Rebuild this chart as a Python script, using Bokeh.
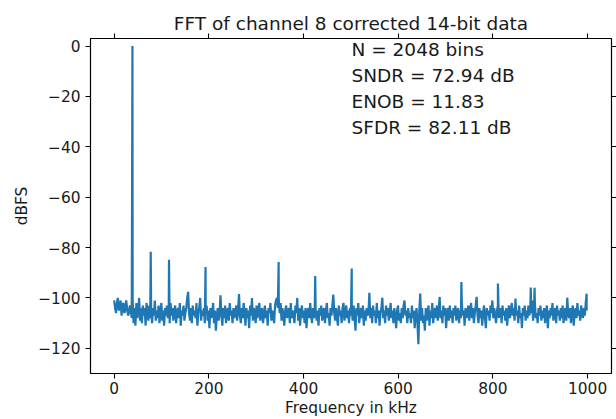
import numpy as np
from bokeh.plotting import figure
from bokeh.models import Range1d, LinearAxis, FixedTicker, Label, ColumnDataSource
from bokeh.embed import file_html
from bokeh.resources import INLINE

# ---------------- data ----------------
bin_width_khz = 1000.0 / 512          # bins of the noise floor
noise_floor_db = [
    -101, -104, -106, -102, -100, -105, -104, -101, -107, -103, -102, -106, -105, -101, -104, -107,
    -106, -103, -105, -108, -101, -110, -104, -111, -102, -108, -105, -100, -109, -104, -110, -103,
    -107, -104, -111, -102, -106, -109, -103, -108, -105, -110, -104, -107, -101, -109, -105, -108,
    -103, -110, -106, -102, -109, -105, -111, -104, -107, -103, -108, -106, -110, -102, -107, -104,
    -109, -105, -103, -110, -106, -104, -108, -102, -111, -105, -107, -103, -109, -106, -104, -100,
    -97.6, -106, -109, -104, -110, -103, -107, -105, -108, -102, -111, -106, -104, -100, -109, -105,
    -107, -104, -110, -106, -103, -109, -105, -112, -104, -108, -106, -102, -110, -105, -113, -107,
    -104, -109, -106, -99, -107, -111, -104, -108, -103, -110, -106, -104, -109, -102, -107, -105,
    -110, -104, -108, -106, -103, -109, -105, -98.5, -107, -110, -104, -108, -102, -106, -111, -104,
    -108, -105, -112, -103, -107, -100, -109, -104, -106, -110, -103, -108, -105, -102, -109, -106,
    -104, -110, -107, -103, -108, -105, -111, -104, -106, -102, -109, -105, -107, -110, -103, -101,
    -100, -104, -101, -106, -102, -109, -104, -107, -111, -105, -103, -108, -106, -104, -110, -102,
    -108, -105, -107, -110, -103, -106, -100, -109, -104, -111, -106, -103, -108, -105, -110, -104,
    -112, -106, -104, -108, -102, -107, -110, -104, -108, -103, -106, -109, -105, -111, -104, -107,
    -103, -109, -106, -104, -110, -105, -102, -108, -106, -111, -104, -107, -103, -98.7, -106, -109,
    -104, -108, -111, -103, -107, -105, -110, -104, -102, -109, -106, -103, -108, -105, -110, -104,
    -107, -105, -109, -103, -108, -113, -104, -107, -102, -110, -106, -104, -108, -103, -111, -105,
    -109, -104, -107, -106, -98, -108, -104, -110, -103, -107, -105, -110, -102, -108, -105, -111,
    -106, -104, -99.9, -108, -105, -110, -103, -107, -104, -109, -106, -102, -108, -105, -110, -104,
    -107, -112, -105, -103, -109, -106, -110, -104, -108, -103, -101, -107, -105, -110, -104, -108,
    -106, -110, -103, -108, -105, -112, -107, -104, -110, -118.4, -105, -98.3, -109, -104, -110, -107,
    -113, -104, -109, -106, -103, -111, -105, -108, -102, -110, -106, -104, -108, -103, -109, -105,
    -99.6, -108, -105, -110, -103, -107, -104, -112, -106, -104, -109, -103, -108, -105, -110, -104,
    -107, -103, -109, -106, -104, -110, -105, -108, -102, -107, -105, -111, -104, -108, -106, -103,
    -109, -105, -102, -108, -104, -110, -106, -103, -99.6, -107, -110, -104, -108, -105, -111, -106,
    -103, -108, -112, -104, -107, -105, -109, -103, -106, -101, -108, -104, -107, -110, -105, -103,
    -108, -106, -104, -110, -103, -107, -105, -109, -104, -111, -106, -103, -108, -105, -102, -107,
    -104, -109, -100.2, -107, -105, -110, -103, -108, -106, -112, -104, -107, -103, -109, -105, -108,
    -103, -107, -104, -106, -101, -109, -105, -102, -108, -106, -110, -104, -107, -103, -109, -105,
    -108, -104, -110, -106, -103, -112, -105, -108, -104, -107, -102, -109, -106, -104, -110, -103,
    -107, -105, -109, -104, -108, -103, -110, -106, -104, -109, -99.9, -106, -108, -104, -110, -105,
    -103, -111, -106, -104, -108, -102, -107, -105, -109, -103, -106, -108, -104, -107, -102, -105,
]
spur_freq_khz = [38.6, 77.2, 115.8, 193.0, 347.4, 424.6, 501.8, 733.4, 810.6, 880.0, 888.0, 998.0]
spur_db = [0.0, -81.7, -84.8, -87.7, -85.7, -91.3, -88.3, -93.7, -94.3, -95.9, -96.0, -98.3]

y_ticks = [0, -20, -40, -60, -80, -100, -120]
x_ticks = [0, 200, 400, 600, 800, 1000]

title_text = "FFT of channel 8 corrected 14-bit data"
info_lines = ["N = 2048 bins", "SNDR = 72.94 dB", "ENOB = 11.83", "SFDR = 82.11 dB"]

# merge noise floor and spurs into one spectrum trace
noise_freq = np.arange(len(noise_floor_db)) * bin_width_khz
freq = np.concatenate([noise_freq, np.array(spur_freq_khz)])
mag = np.concatenate([np.array(noise_floor_db, dtype=float), np.array(spur_db)])
order = np.argsort(freq, kind="stable")
src = ColumnDataSource(dict(f=freq[order], db=mag[order]))

# ---------------- figure ----------------
FONT = "DejaVu Sans"
TXT = "#1a1a1a"

p = figure(width=616, height=419, output_backend="svg", toolbar_location=None,
           x_range=Range1d(-50, 1050.5), y_range=Range1d(-130, 3),
           min_border_left=90, min_border_right=5, min_border_top=38, min_border_bottom=46,
           title=title_text)

p.line("f", "db", source=src, line_color="#1f77b4", line_width=2.2)

p.xgrid.visible = False
p.ygrid.visible = False
p.background_fill_color = "white"
p.border_fill_color = "white"
p.outline_line_color = "black"
p.outline_line_width = 1.1

p.title.text_font = FONT
p.title.text_font_size = "18.5px"
p.title.text_font_style = "normal"
p.title.text_color = TXT
p.title.align = "center"
p.title.standoff = 0
p.title.offset = 0

def style_axis(ax, ticks, labels=True):
    ax.ticker = FixedTicker(ticks=ticks)
    ax.axis_line_color = "black"
    ax.axis_line_width = 1.1
    ax.major_tick_line_color = "black"
    ax.major_tick_line_width = 1.1
    ax.major_tick_out = 5
    ax.major_tick_in = 0
    ax.minor_tick_line_color = None
    ax.major_label_text_font = FONT
    ax.major_label_text_font_size = "15.4px"
    ax.major_label_text_color = TXT
    ax.axis_label_text_font = FONT
    ax.axis_label_text_font_size = "15.4px"
    ax.axis_label_text_font_style = "normal"
    ax.axis_label_text_color = TXT
    if labels:
        ax.major_label_overrides = {t: (str(t).replace("-", "\u2212")) for t in ticks}
    else:
        ax.major_label_overrides = {t: "" for t in ticks}
        ax.major_label_standoff = 0

xax = p.xaxis[0]
style_axis(xax, x_ticks)
xax.axis_label = "Frequency in kHz"
xax.major_label_standoff = 3
xax.axis_label_standoff = 2

yax = p.yaxis[0]
style_axis(yax, y_ticks)
yax.axis_label = "dBFS"
yax.major_label_standoff = 5
yax.axis_label_standoff = 4

top_ax = LinearAxis()
style_axis(top_ax, x_ticks, labels=False)
p.add_layout(top_ax, "above")

right_ax = LinearAxis()
style_axis(right_ax, y_ticks, labels=False)
p.add_layout(right_ax, "right")

baselines_from_bottom = [324.0, 298.0, 272.0, 246.0]
for line, yb in zip(info_lines, baselines_from_bottom):
    p.add_layout(Label(x=261, y=yb, x_units="screen", y_units="screen", text=line,
                       text_font=FONT, text_font_size="18.5px", text_color=TXT,
                       text_baseline="alphabetic", text_align="left"))

open("out.html", "w").write(file_html(p, INLINE))
